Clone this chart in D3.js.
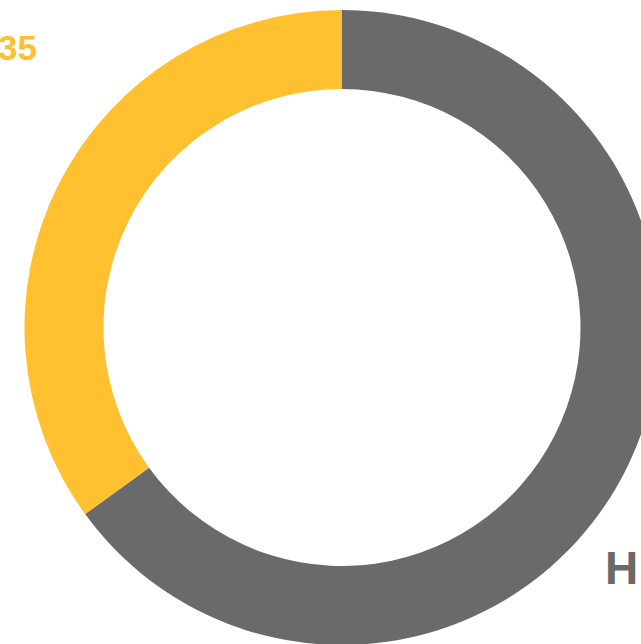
<!DOCTYPE html>
<html lang="en">
<head>
<meta charset="UTF-8">
<script src="https://d3js.org/d3.v7.min.js"></script>
<style>
body { margin: 0; background: #fff; overflow: hidden; }
svg { display: block; }
text { font-family: "Liberation Sans", Arial, sans-serif; font-weight: bold; }
</style>
</head>
<body>
<div id="chart"></div>
<script>
// data
const categories = ["grey", "yellow"];
const values = [65, 35];
const labels = ["H", "35"];
const colors = ["#6a6a6a", "#ffc12f"];

const width = 641, height = 644;
const centre = { x: 342, y: 327.5 };
const outerR = 317.5, innerR = 238.5;

const svg = d3.select("#chart").append("svg")
  .attr("width", width)
  .attr("height", height);

const pie = d3.pie().sort(null).value(d => d.value);
const arc = d3.arc().innerRadius(innerR).outerRadius(outerR);

const data = categories.map((c, i) => ({ name: c, value: values[i], label: labels[i], color: colors[i] }));

const g = svg.append("g").attr("transform", `translate(${centre.x},${centre.y})`);

g.selectAll("path")
  .data(pie(data))
  .enter()
  .append("path")
  .attr("d", arc)
  .attr("fill", d => d.data.color);

// labels (partly outside the window in the original)
svg.append("text")
  .attr("x", 37)
  .attr("y", 60)
  .attr("text-anchor", "end")
  .style("font-size", "35px")
  .attr("fill", colors[1])
  .text(labels[1]);

svg.append("text")
  .attr("x", 605)
  .attr("y", 584)
  .attr("text-anchor", "start")
  .style("font-size", "46px")
  .attr("fill", colors[0])
  .text(labels[0]);
</script>
</body>
</html>
